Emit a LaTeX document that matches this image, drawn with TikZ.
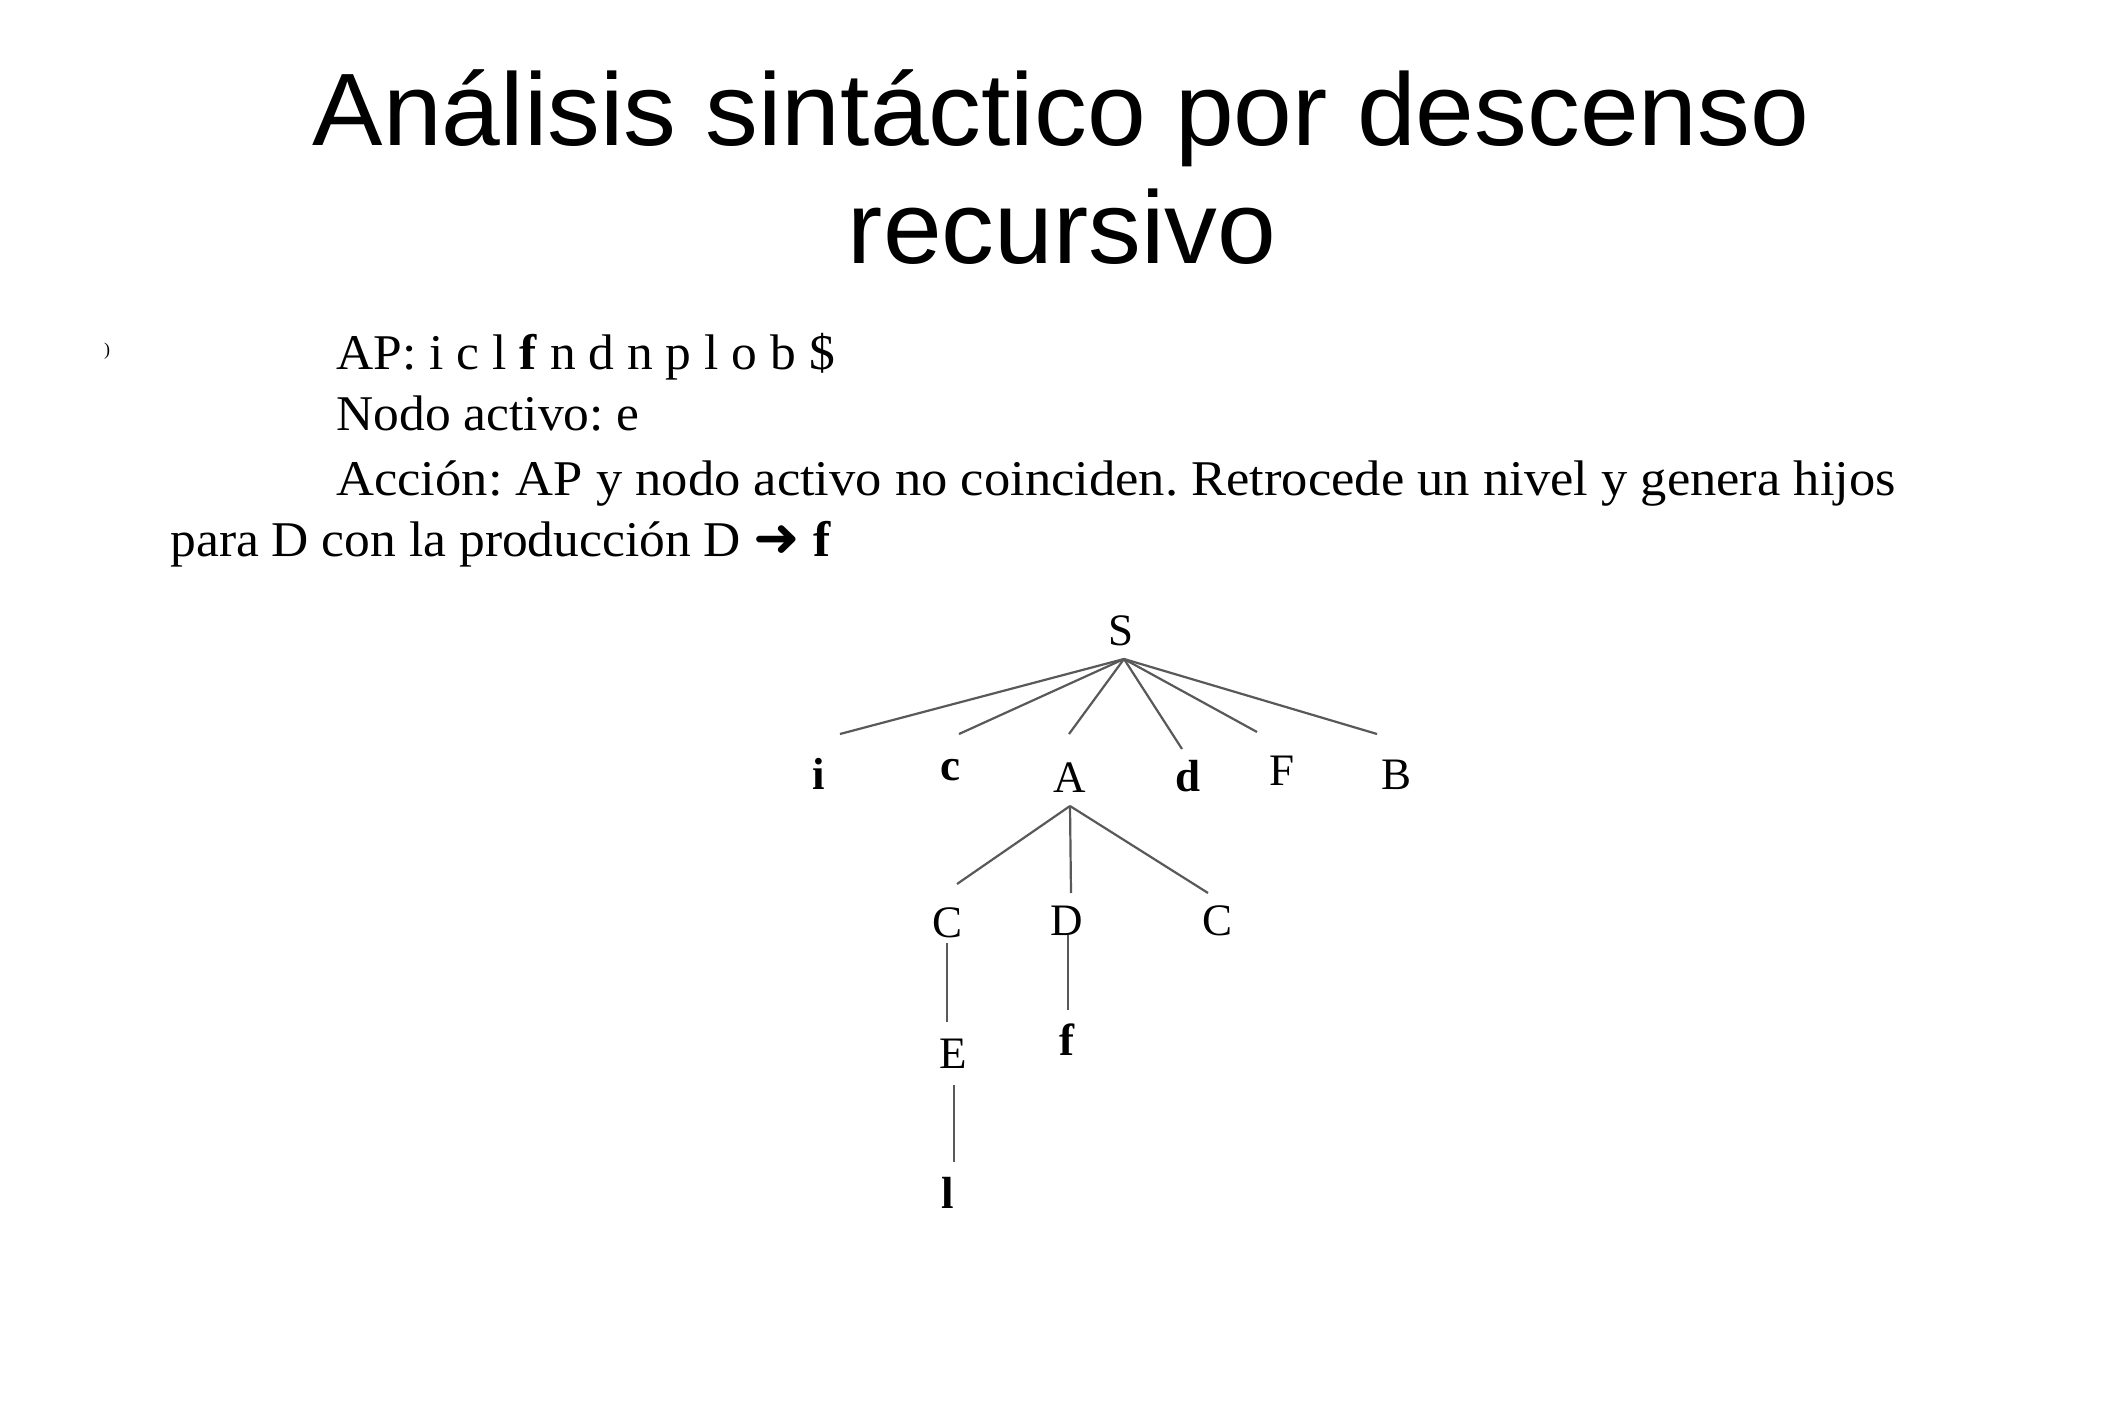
\documentclass[tikz,border=0pt]{standalone}
\usepackage{fontspec}
\setmainfont{Liberation Serif}
\newfontfamily\titlefont{Liberation Sans}
\newfontfamily\symfont{DejaVu Sans}
\frenchspacing
\begin{document}
\begin{tikzpicture}[x=0.5pt,y=-0.5pt,
  titletxt/.style={anchor=base,inner sep=0pt,xscale=1.025,font=\titlefont\fontsize{51.5}{61}\selectfont},
  bodytxt/.style={anchor=base west,inner sep=0pt,xscale=1.03,font=\fontsize{25}{30}\selectfont},
  lbl/.style={anchor=base,inner sep=0pt,font=\fontsize{22.5}{27}\selectfont},
  term/.style={lbl,font=\fontsize{22.5}{27}\selectfont\bfseries},
  edge/.style={draw=black!65,line width=1.1pt}]
\useasboundingbox[fill=white] (0,0) rectangle (2126,1417);

% title
\node[titletxt] (t1) at (1061,146) {Análisis sintáctico por descenso};
\node[titletxt] (t2) at (1062,264) {recursivo};

% description
\node[inner sep=0pt,font=\fontsize{9}{10}\selectfont] (mk) at (107,351) {)};
\node[bodytxt] (l1) at (336,370) {AP: i c l \textbf{f} n d n p l o b \$};
\node[bodytxt] (l2) at (336,431) {Nodo activo: e};
\node[bodytxt,xscale=1.02] (l3) at (336,495) {Acción: AP y nodo activo no coinciden. Retrocede un nivel y genera hijos};
\node[bodytxt] (l4) at (170,556) {para D con la producción D {\symfont\fontsize{27}{30}\selectfont ➜} \textbf{f}};

% parse tree
\node[lbl] (S) at (1121,645) {S};
\coordinate (Sj) at (1124,659);

\node[term] (i) at (819,789) {i};
\node[term] (c) at (950,780) {c};
\node[lbl]  (A) at (1070,792) {A};
\node[term] (d) at (1188,791) {d};
\node[lbl]  (F) at (1282,785) {F};
\node[lbl]  (B) at (1396,789) {B};

\coordinate (ie) at (840,734);
\coordinate (ce) at (959,734);
\coordinate (Ae) at (1069,734);
\coordinate (de) at (1182,749);
\coordinate (Fe) at (1257,732);
\coordinate (Be) at (1377,734);

\foreach \e in {ie,ce,Ae,de,Fe,Be} \draw[edge] (Sj) -- (\e);

\coordinate (Aj) at (1070,806);
\node[lbl] (C1) at (947,937) {C};
\node[lbl] (D) at (1067,935) {D};
\node[lbl] (C2) at (1217,935) {C};
\coordinate (C1e) at (957,884);
\coordinate (De) at (1071,893);
\coordinate (C2e) at (1208,893);
\foreach \e in {C1e,De,C2e} \draw[edge] (Aj) -- (\e);

\node[lbl] (E) at (953,1068) {E};
\node[term] (f) at (1067,1055) {f};
\node[term] (l) at (948,1208) {l};

\coordinate (C1b) at (947,943);
\coordinate (Et) at (947,1022);
\draw[edge] (C1b) -- (Et);
\coordinate (Db) at (1068,935);
\coordinate (ft) at (1068,1010);
\draw[edge] (Db) -- (ft);
\coordinate (Eb) at (954,1085);
\coordinate (lt) at (954,1162);
\draw[edge] (Eb) -- (lt);
\end{tikzpicture}
\end{document}
